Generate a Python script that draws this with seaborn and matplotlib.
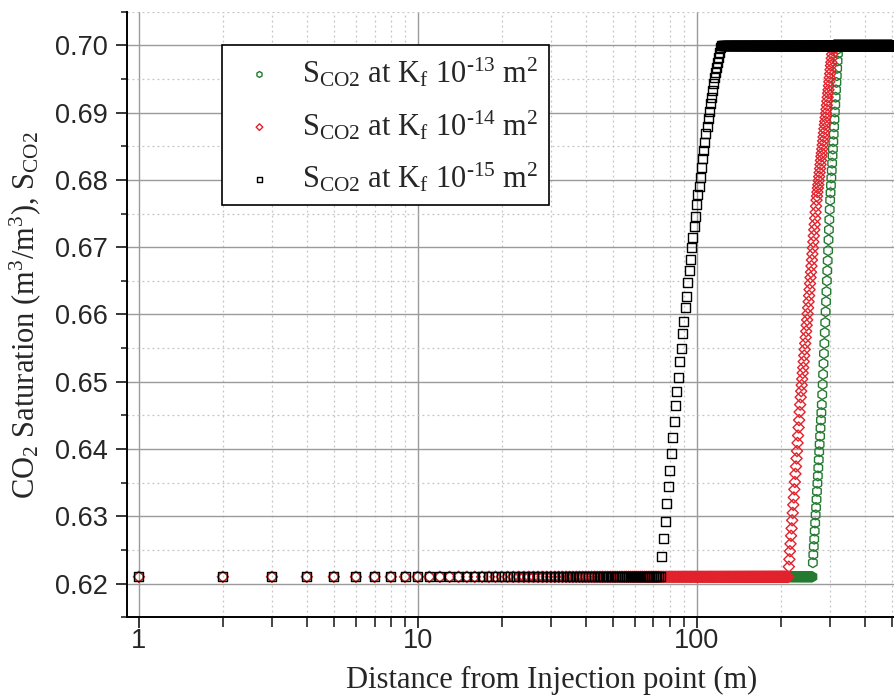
import matplotlib
matplotlib.use("Agg")
import matplotlib.pyplot as plt
from matplotlib.ticker import LogLocator, MultipleLocator, FuncFormatter, NullFormatter
import pandas as pd
import seaborn as sns

# Distance grid (m) and plateau levels
distance = list(range(1, 501))
base_level = 0.621
top_level = 0.700

# Rising fronts, one value per metre
rise_k15_start = 75
rise_k15 = [
    0.6240, 0.6267, 0.6292, 0.6319, 0.6344, 0.6368, 0.6393, 0.6417, 0.6441, 0.6464,
    0.6485, 0.6507, 0.6530, 0.6550, 0.6571, 0.6590, 0.6610, 0.6627, 0.6647, 0.6665,
    0.6682, 0.6699, 0.6715, 0.6731, 0.6746, 0.6763, 0.6779, 0.6791, 0.6804, 0.6819,
    0.6832, 0.6844, 0.6856, 0.6869, 0.6880, 0.6892, 0.6902, 0.6914, 0.6923, 0.6933,
    0.6944, 0.6953, 0.6960, 0.6967, 0.6975, 0.6982, 0.6990, 0.6997,
]

rise_k14_start = 214
rise_k14 = [
    0.6225, 0.6236, 0.6248, 0.6259, 0.6271, 0.6282, 0.6294, 0.6305, 0.6317, 0.6328,
    0.6340, 0.6351, 0.6363, 0.6374, 0.6386, 0.6397, 0.6409, 0.6420, 0.6432, 0.6443,
    0.6455, 0.6466, 0.6477, 0.6486, 0.6495, 0.6504, 0.6513, 0.6521, 0.6530, 0.6539,
    0.6548, 0.6557, 0.6566, 0.6575, 0.6584, 0.6592, 0.6601, 0.6610, 0.6619, 0.6628,
    0.6637, 0.6646, 0.6655, 0.6663, 0.6672, 0.6681, 0.6690, 0.6699, 0.6708, 0.6717,
    0.6726, 0.6734, 0.6743, 0.6752, 0.6761, 0.6770, 0.6776, 0.6782, 0.6788, 0.6793,
    0.6799, 0.6805, 0.6811, 0.6817, 0.6823, 0.6829, 0.6835, 0.6840, 0.6846, 0.6852,
    0.6858, 0.6864, 0.6870, 0.6876, 0.6882, 0.6887, 0.6893, 0.6899, 0.6905, 0.6911,
    0.6917, 0.6923, 0.6929, 0.6934, 0.6940, 0.6946, 0.6952, 0.6958, 0.6964, 0.6970,
    0.6975, 0.6981, 0.6987, 0.6993, 0.6996, 0.6998, 0.6999,
]

rise_k13_start = 261
rise_k13 = [
    0.6231, 0.6243, 0.6255, 0.6266, 0.6278, 0.6290, 0.6302, 0.6313, 0.6325, 0.6337,
    0.6349, 0.6360, 0.6372, 0.6384, 0.6396, 0.6407, 0.6419, 0.6431, 0.6443, 0.6454,
    0.6466, 0.6481, 0.6496, 0.6511, 0.6527, 0.6542, 0.6557, 0.6573, 0.6588, 0.6604,
    0.6619, 0.6634, 0.6650, 0.6665, 0.6680, 0.6695, 0.6711, 0.6726, 0.6741, 0.6756,
    0.6770, 0.6781, 0.6792, 0.6803, 0.6814, 0.6825, 0.6836, 0.6846, 0.6857, 0.6868,
    0.6879, 0.6890, 0.6901, 0.6912, 0.6923, 0.6934, 0.6945, 0.6955, 0.6966, 0.6977,
    0.6988, 0.6995, 0.6999,
]

labels = [
    r"S$_{\rm CO2}$ at K$_{\rm f}$ 10$^{\text{-13}}$ m$^{\rm 2}$",
    r"S$_{\rm CO2}$ at K$_{\rm f}$ 10$^{\text{-14}}$ m$^{\rm 2}$",
    r"S$_{\rm CO2}$ at K$_{\rm f}$ 10$^{\text{-15}}$ m$^{\rm 2}$",
]


def build_series(start, rise):
    """Flat initial level, the read-off front, then the top plateau."""
    vals = []
    for x in distance:
        if x < start:
            vals.append(base_level)
        elif x < start + len(rise):
            vals.append(rise[x - start])
        else:
            vals.append(top_level)
    return vals


sns.set_style("ticks")
plt.rcParams["font.family"] = ["Liberation Sans", "DejaVu Sans"]
plt.rcParams["mathtext.fontset"] = "custom"
plt.rcParams["mathtext.rm"] = "Liberation Serif"
plt.rcParams["mathtext.it"] = "Liberation Serif:italic"
plt.rcParams["mathtext.bf"] = "Liberation Serif:bold"

fig = plt.figure(figsize=(8.94, 6.95), dpi=100)
ax = fig.add_axes([0.142, 0.112, 0.858, 0.871])

series = [
    (rise_k13_start, rise_k13, "h", "#237a30", 50),
    (rise_k14_start, rise_k14, "D", "#e2222c", 32),
    (rise_k15_start, rise_k15, "s", "black", 42),
]
for (start, rise, marker, color, size), label in zip(series, labels):
    df = pd.DataFrame({"distance": distance, "sat": build_series(start, rise)})
    sns.scatterplot(data=df, x="distance", y="sat", marker=marker, s=size,
                    color=color, facecolor="none", edgecolor=color,
                    linewidth=1.0, ax=ax, label=label, zorder=3)

ax.set_xscale("log")
ax.set_xlim(0.906, 510)
ax.set_ylim(0.615, 0.705)

ax.xaxis.set_major_locator(LogLocator(base=10))
ax.xaxis.set_minor_locator(LogLocator(base=10, subs=range(2, 10)))
ax.xaxis.set_major_formatter(FuncFormatter(lambda v, p: "%g" % v))
ax.xaxis.set_minor_formatter(NullFormatter())
ax.yaxis.set_major_locator(MultipleLocator(0.01))
ax.yaxis.set_minor_locator(MultipleLocator(0.005))
ax.yaxis.set_major_formatter(FuncFormatter(lambda v, p: "%.2f" % v))

ax.set_axisbelow(True)
ax.grid(which="major", color="#9a9a9a", linewidth=1.0, linestyle="-")
ax.grid(which="minor", color="#c4c4c4", linewidth=0.9, linestyle=(0, (1.5, 2.5)))

sns.despine(ax=ax)
for side in ["left", "bottom"]:
    ax.spines[side].set_linewidth(1.4)
    ax.spines[side].set_color("black")
ax.tick_params(which="major", direction="out", length=8, width=1.3, labelsize=19.5)
ax.tick_params(axis="x", which="major", pad=0)
ax.tick_params(axis="y", which="major", pad=6)
ax.tick_params(axis="x", which="minor", direction="out", length=7, width=1.2)
ax.tick_params(axis="y", which="minor", direction="out", length=4, width=1.2)

ax.set_xlabel("Distance from Injection point (m)", family="Liberation Serif", fontsize=22)
ax.xaxis.set_label_coords(0.553, -0.08)
ax.set_ylabel(r"CO$_{\rm 2}$ Saturation (m$^{\rm 3}$/m$^{\rm 3}$), S$_{\rm CO2}$",
              family="Liberation Serif", fontsize=22, labelpad=8)

leg = ax.legend(loc="upper left", bbox_to_anchor=(0.124, 0.945), borderaxespad=0,
                frameon=True, fancybox=False, framealpha=1, edgecolor="black",
                markerscale=0.6, prop={"family": "Liberation Serif", "size": 22},
                handletextpad=0.5, borderpad=0.35, labelspacing=0.62,
                handlelength=1.75)
leg.get_frame().set_linewidth(1.2)

fig.savefig("out.png", dpi=100)
